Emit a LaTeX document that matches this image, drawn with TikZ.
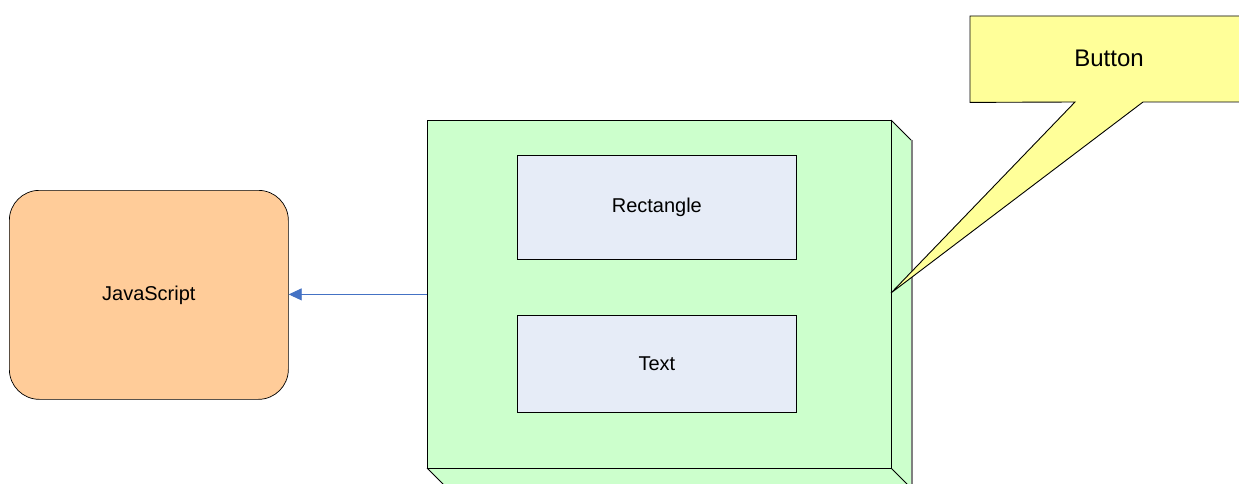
\documentclass[tikz,border=0pt]{standalone}
\usepackage{fontspec}
\setmainfont{Liberation Sans}
\usetikzlibrary{arrows.meta}
\definecolor{jsorange}{HTML}{FFCC99}
\definecolor{panelgreen}{HTML}{CCFFCC}
\definecolor{partblue}{HTML}{E6ECF7}
\definecolor{noteyellow}{HTML}{FFFF99}
\definecolor{linkblue}{HTML}{4472C4}
\tikzset{
  edge/.style={draw=black, line width=0.8pt},
  label/.style={font=\fontsize{20}{24}\selectfont},
  partbox/.style={draw=black, line width=0.7pt, fill=partblue, minimum width=279pt, label},
  jsbox/.style={draw=black, line width=0.7pt, fill=jsorange, rounded corners=30pt, minimum width=279pt, minimum height=209pt, label},
  link/.style={draw=linkblue, line width=0.9pt, -{Triangle[length=13pt,width=12pt]}},
}
\begin{document}
\begin{tikzpicture}[x=1pt,y=-1pt]
  \useasboundingbox (0,0) rectangle (1239,484);
  \clip (0,0) rectangle (1239,484);

  % 3D panel: side and bottom faces
  \fill[panelgreen] (891,120) -- (911,140) -- (911,490) -- (891,468) -- cycle;
  \fill[panelgreen] (427,468) -- (891,468) -- (911,488) -- (447,488) -- cycle;
  \draw[edge] (891,120) -- (911,140);
  \draw[edge] (427,468) -- (447,488);
  \draw[edge] (891,468) -- (911,488);
  \draw[gray, line width=2pt] (912,140) -- (912,490);

  % front face
  \node[draw=black, line width=0.8pt, fill=panelgreen, minimum width=464pt, minimum height=348pt, inner sep=0pt, anchor=north west] (panel) at (427,120) {};

  \node[partbox, minimum height=104pt, anchor=north west] (rect) at (517,155) {Rectangle};
  \node[partbox, minimum height=97pt, anchor=north west] (text) at (517,315) {Text};

  \node[jsbox, anchor=north west] (js) at (9,190) {JavaScript};

  \draw[link] (panel.west) -- (panel.west -| js.east);

  % callout
  \coordinate (tip) at (891,293);
  \node[minimum width=269pt, minimum height=86pt, inner sep=0pt, anchor=north west] (button) at (970,16) {};
  \filldraw[fill=noteyellow, draw=black, line width=0.9pt]
    (button.north west) -- (1250,16) -- (1250,102) -- (1143,102) -- (tip) -- (1075,102) -- (button.south west) -- cycle;
  \node[font=\fontsize{24}{28}\selectfont] at (1109,58) {Button};
\end{tikzpicture}
\end{document}
